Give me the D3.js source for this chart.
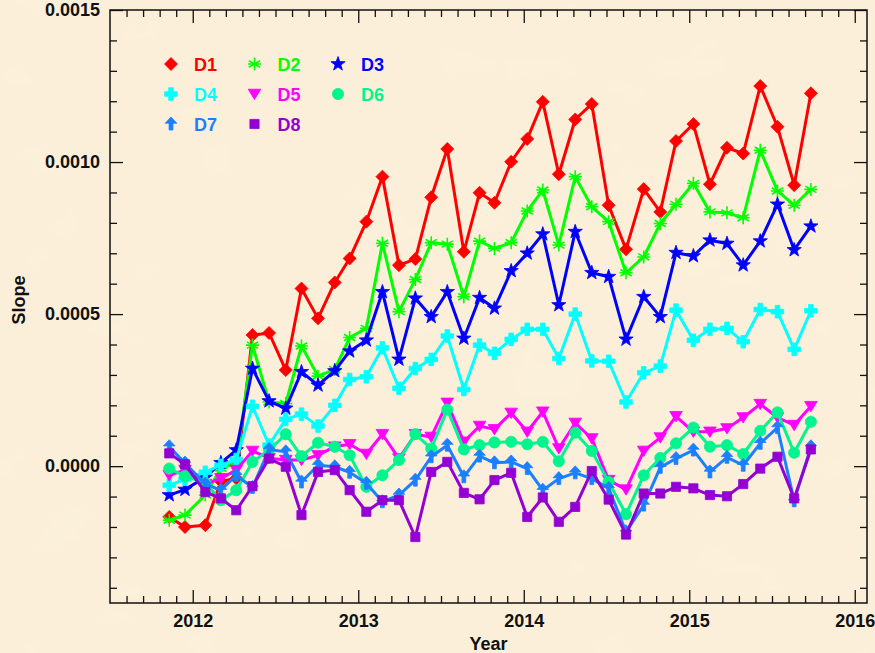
<!DOCTYPE html>
<html><head><meta charset="utf-8">
<script src="https://cdn.jsdelivr.net/npm/d3@7"></script>
<style>html,body{margin:0;padding:0;background:#fbefd9;} svg{display:block;}</style>
</head><body><svg id="c" width="875" height="653"></svg>
<script>
// ---- data ----
const dates = [2011.858,2011.953,2012.076,2012.170,2012.263,2012.361,2012.461,2012.562,2012.657,2012.757,
  2012.858,2012.948,2013.049,2013.146,2013.246,2013.345,2013.441,2013.538,2013.638,2013.733,
  2013.823,2013.924,2014.021,2014.115,2014.212,2014.311,2014.411,2014.513,2014.618,2014.725,
  2014.825,2014.920,2015.025,2015.125,2015.228,2015.326,2015.429,2015.533,2015.634,2015.735];
const d1 = [-0.000167,-0.000200,-0.000194,-0.000050,-0.000040,0.000431,0.000438,0.000316,0.000584,0.000486,
  0.000604,0.000683,0.000804,0.000952,0.000661,0.000681,0.000884,0.001043,0.000705,0.000899,
  0.000866,0.001001,0.001076,0.001198,0.000960,0.001140,0.001191,0.000858,0.000713,0.000911,
  0.000836,0.001069,0.001125,0.000927,0.001047,0.001028,0.001250,0.001116,0.000924,0.001226];
const d2 = [-0.000178,-0.000161,-0.000095,-0.000007,0.000010,0.000398,0.000211,0.000206,0.000395,0.000296,
  0.000318,0.000423,0.000453,0.000733,0.000508,0.000614,0.000735,0.000730,0.000557,0.000740,
  0.000716,0.000735,0.000839,0.000908,0.000727,0.000952,0.000853,0.000804,0.000636,0.000688,
  0.000798,0.000861,0.000930,0.000836,0.000833,0.000817,0.001039,0.000905,0.000858,0.000910];
const d3v = [-0.000095,-0.000077,-0.000037,0.000011,0.000053,0.000321,0.000214,0.000190,0.000310,0.000266,
  0.000313,0.000378,0.000414,0.000573,0.000351,0.000552,0.000491,0.000573,0.000420,0.000554,
  0.000519,0.000642,0.000700,0.000763,0.000530,0.000771,0.000636,0.000623,0.000417,0.000557,
  0.000491,0.000702,0.000691,0.000743,0.000732,0.000661,0.000740,0.000861,0.000711,0.000789];
const d4 = [-0.000063,-0.000043,-0.000020,0.000003,0.000022,0.000197,0.000069,0.000154,0.000171,0.000132,
  0.000200,0.000285,0.000294,0.000389,0.000256,0.000321,0.000351,0.000428,0.000252,0.000398,
  0.000371,0.000417,0.000450,0.000450,0.000354,0.000500,0.000346,0.000345,0.000211,0.000307,
  0.000329,0.000513,0.000414,0.000450,0.000453,0.000409,0.000515,0.000508,0.000384,0.000511];
const d5 = [-0.000030,-0.000013,-0.000059,-0.000040,-0.000013,0.000050,0.000026,0.000020,0.000020,0.000036,
  0.000064,0.000072,0.000040,0.000105,0.000025,0.000105,0.000096,0.000208,0.000080,0.000132,
  0.000121,0.000175,0.000113,0.000179,0.000058,0.000142,0.000091,-0.000046,-0.000077,0.000050,
  0.000094,0.000164,0.000113,0.000113,0.000124,0.000160,0.000204,0.000160,0.000135,0.000197];
const d6 = [-0.000008,-0.000033,-0.000056,-0.000112,-0.000079,0.000014,0.000053,0.000105,0.000033,0.000077,
  0.000064,0.000036,-0.000068,-0.000030,0.000020,0.000105,0.000058,0.000186,0.000055,0.000069,
  0.000078,0.000080,0.000072,0.000080,0.000016,0.000110,0.000050,-0.000052,-0.000158,-0.000030,
  0.000027,0.000075,0.000127,0.000064,0.000069,0.000040,0.000116,0.000177,0.000044,0.000146];
const d7 = [0.000064,0.000010,-0.000059,-0.000079,-0.000030,-0.000070,0.000055,0.000047,-0.000052,0.000003,
  -0.000002,-0.000020,-0.000056,-0.000117,-0.000095,-0.000046,0.000031,0.000069,-0.000035,0.000033,
  0.000011,0.000014,-0.000008,-0.000079,-0.000041,-0.000022,-0.000041,-0.000073,-0.000216,-0.000128,
  -0.000004,0.000025,0.000053,-0.000019,0.000029,0.000003,0.000075,0.000127,-0.000114,0.000064];
const d8 = [0.000042,0.000006,-0.000085,-0.000106,-0.000145,-0.000066,0.000025,-0.000002,-0.000161,-0.000019,
  -0.000013,-0.000079,-0.000150,-0.000112,-0.000112,-0.000233,-0.000019,0.000014,-0.000088,-0.000109,
  -0.000046,-0.000022,-0.000167,-0.000103,-0.000183,-0.000134,-0.000016,-0.000110,-0.000225,-0.000090,
  -0.000090,-0.000068,-0.000073,-0.000095,-0.000099,-0.000059,-0.000008,0.000031,-0.000106,0.000055];
const seriesNames = ["D1","D2","D3","D4","D5","D6","D7","D8"];
const seriesColors = ["#ff0000","#00ff00","#0000ff","#00ffff","#ff00ff","#00f58f","#1a80ff","#9400d3"];
const seriesMarkers = ["diamond","asterisk","star","plus","triDown","circle","arrow","square"];
const xTickValues = [2012,2013,2014,2015,2016];
const yTickValues = [0,0.0005,0.0010,0.0015];
const yTickLabels = ["0.0000","0.0005","0.0010","0.0015"];

// ---- layout ----
const svg = d3.select("#c");
const L=110,R=867,T=10,B=603;
const x = d3.scaleLinear().domain([2011.5,2016.074]).range([L,R]);
const y = d3.scaleLinear().domain([-0.00045,0.0015]).range([B,T]);
const font = "'Liberation Sans', Arial, Helvetica, sans-serif";

// parchment-like background
const defs = svg.append("defs");
const f = defs.append("filter").attr("id","paper").attr("x",0).attr("y",0).attr("width","100%").attr("height","100%");
f.append("feTurbulence").attr("type","fractalNoise").attr("baseFrequency","0.012 0.02").attr("numOctaves",3).attr("seed",7).attr("result","n");
f.append("feColorMatrix").attr("in","n").attr("type","matrix")
  .attr("values","0 0 0 0 0.99  0 0 0 0 0.93  0 0 0 0 0.82  0 0 0 0.16 -0.05");
svg.append("rect").attr("width",875).attr("height",653).attr("fill","#fbefd9");
svg.append("rect").attr("width",875).attr("height",653).attr("filter","url(#paper)");

// ---- axes ----
const xMinor = d3.range(2011.6,2016.05,0.1).map(v=>+v.toFixed(1)).filter(v=>!xTickValues.includes(v));
const yMinor = d3.range(-4,15,1).map(v=>v/10000).filter(v=>Math.abs(v*2000-Math.round(v*2000))>1e-6);

function styleAxis(g){
  g.select(".domain").remove();
  g.selectAll("line").attr("stroke","#111").attr("stroke-width",1.3);
  g.selectAll("text").attr("font-family",font).attr("font-weight","bold").attr("font-size",18).attr("fill","#111");
}
svg.append("g").attr("transform",`translate(0,${B})`)
  .call(d3.axisBottom(x).tickValues(xTickValues).tickFormat(d3.format("d")).tickSize(-13).tickPadding(11)).call(styleAxis);
svg.append("g").attr("transform",`translate(0,${B})`)
  .call(d3.axisBottom(x).tickValues(xMinor).tickFormat("").tickSize(-7)).call(styleAxis);
svg.append("g").attr("transform",`translate(0,${T})`)
  .call(d3.axisTop(x).tickValues(xTickValues).tickFormat("").tickSize(-13)).call(styleAxis);
svg.append("g").attr("transform",`translate(0,${T})`)
  .call(d3.axisTop(x).tickValues(xMinor).tickFormat("").tickSize(-7)).call(styleAxis);
svg.append("g").attr("transform",`translate(${L},0)`)
  .call(d3.axisLeft(y).tickValues(yTickValues).tickFormat((d,i)=>yTickLabels[i]).tickSize(-13).tickPadding(10)).call(styleAxis);
svg.append("g").attr("transform",`translate(${L},0)`)
  .call(d3.axisLeft(y).tickValues(yMinor).tickFormat("").tickSize(-7)).call(styleAxis);
svg.append("g").attr("transform",`translate(${R},0)`)
  .call(d3.axisRight(y).tickValues(yTickValues).tickFormat("").tickSize(-13)).call(styleAxis);
svg.append("g").attr("transform",`translate(${R},0)`)
  .call(d3.axisRight(y).tickValues(yMinor).tickFormat("").tickSize(-7)).call(styleAxis);
svg.append("rect").attr("x",L).attr("y",T).attr("width",R-L).attr("height",B-T)
  .attr("fill","none").attr("stroke","#111").attr("stroke-width",1.5);

svg.append("text").attr("x",(L+R)/2).attr("y",650).attr("text-anchor","middle")
  .attr("font-family",font).attr("font-weight","bold").attr("font-size",18).attr("fill","#111").text("Year");
svg.append("text").attr("transform","translate(25,300) rotate(-90)").attr("text-anchor","middle")
  .attr("font-family",font).attr("font-weight","bold").attr("font-size",18).attr("fill","#111").text("Slope");

// ---- markers ----
function starPath(ro,ri){
  let p=[];
  for(let k=0;k<10;k++){const a=-Math.PI/2+k*Math.PI/5;const r=k%2?ri:ro;p.push([r*Math.cos(a),r*Math.sin(a)]);}
  return "M"+p.map(q=>q[0].toFixed(2)+","+q[1].toFixed(2)).join("L")+"Z";
}
const shapes = {
  diamond: {d:"M0,-6.5L6.5,0L0,6.5L-6.5,0Z", fill:true},
  asterisk:{d:"M0,-6.5L0,6.5M-5.6,-3.25L5.6,3.25M-5.6,3.25L5.6,-3.25M-6.5,0L6.5,0", fill:false},
  star:    {d:starPath(7.5,3), fill:true},
  plus:    {d:"M-2.3,-6.3L2.3,-6.3L2.3,-2.3L6.3,-2.3L6.3,2.3L2.3,2.3L2.3,6.3L-2.3,6.3L-2.3,2.3L-6.3,2.3L-6.3,-2.3L-2.3,-2.3Z", fill:true},
  triDown: {d:"M-6.3,-4.8L6.3,-4.8L0,5.6Z", fill:true},
  circle:  {d:"M5.6,0A5.6,5.6 0 1,1 -5.6,0A5.6,5.6 0 1,1 5.6,0Z", fill:true},
  arrow:   {d:"M0,-7L5.8,-0.8L1.9,-0.8L1.9,6L-1.9,6L-1.9,-0.8L-5.8,-0.8Z", fill:true},
  square:  {d:"M-4.6,-4.6L4.6,-4.6L4.6,4.6L-4.6,4.6Z", fill:true}
};
function drawMarker(g,kind,color,cx,cy){
  const s=shapes[kind];
  g.append("path").attr("d",s.d).attr("transform",`translate(${cx},${cy})`)
    .attr("fill",s.fill?color:"none").attr("stroke",color).attr("stroke-width",s.fill?0.8:1.6);
}

// ---- series ----
const allSeries=[d1,d2,d3v,d4,d5,d6,d7,d8];
const line = d3.line().x(d=>x(d[0])).y(d=>y(d[1]));
allSeries.forEach((vals,i)=>{
  const pts = dates.map((t,j)=>[t,vals[j]]);
  const g = svg.append("g");
  g.append("path").datum(pts).attr("d",line).attr("fill","none")
    .attr("stroke",seriesColors[i]).attr("stroke-width",3).attr("stroke-linejoin","round");
  pts.forEach(p=>drawMarker(g,seriesMarkers[i],seriesColors[i],x(p[0]),y(p[1])));
});

// ---- legend ----
const leg = svg.append("g");
seriesNames.forEach((n,i)=>{
  const col=i%3,row=Math.floor(i/3);
  const mx=171+col*83.5, my=64+row*30;
  drawMarker(leg,seriesMarkers[i],seriesColors[i],mx,my);
  leg.append("text").attr("x",mx+23).attr("y",my+6.5).attr("font-family",font).attr("font-weight","bold")
    .attr("font-size",18).attr("fill",seriesColors[i]).text(n);
});
</script></body></html>
